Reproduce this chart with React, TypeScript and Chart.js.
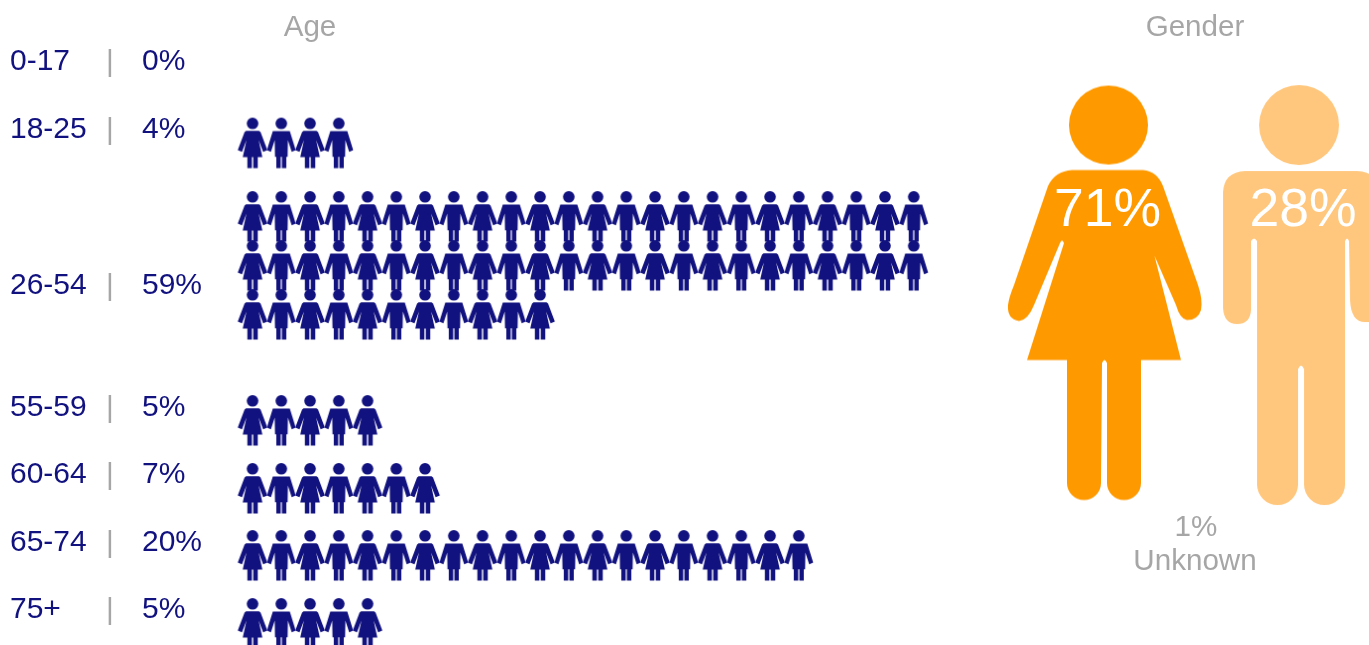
import React, { useEffect, useRef } from "react";
import { Chart, registerables } from "chart.js";

Chart.register(...registerables);

const ageGroups = ["0-17", "18-25", "26-54", "55-59", "60-64", "65-74", "75+"];
const agePercent = [0, 4, 59, 5, 7, 20, 5];
const ageIconSlot = [0, 1, 2.086, 5.104, 6.109, 7.101, 8.107];
const ageLabelSlot = [-0.207, 0.799, 3.107, 4.912, 5.903, 6.909, 7.9];
const iconsPerLine = 24;
const lineStep = 0.725;

const genderLabels = ["71%", "28%"];
const genderColumn = [29.652, 36.47];
const genderSlot = [3.203, 3.24];
const genderLabelColumn = [29.74, 36.54];
const genderLabelSlot = [1.995, 1.995];

const NAVY = "#11117f";
const GRAY = "#a6a6a6";
const ORANGE = "#ff9900";
const LIGHT = "#ffc77d";
const FONT = '"Liberation Sans", Arial, sans-serif';

function makeCanvas(w: number, h: number, draw: (c: CanvasRenderingContext2D) => void) {
  const cv = document.createElement("canvas");
  cv.width = w;
  cv.height = h;
  const c = cv.getContext("2d")!;
  draw(c);
  return cv;
}

function poly(c: CanvasRenderingContext2D, pts: number[][]) {
  c.beginPath();
  pts.forEach((p, i) => (i ? c.lineTo(p[0], p[1]) : c.moveTo(p[0], p[1])));
  c.closePath();
  c.fill();
}

const smallFemale = () =>
  makeCanvas(32, 54, (c) => {
    c.translate(16, 27);
    c.fillStyle = NAVY;
    c.beginPath();
    c.arc(0, -20.2, 5.8, 0, Math.PI * 2);
    c.fill();
    poly(c, [[-6.5, -12.8], [6.5, -12.8], [8, -11.5], [14.8, 6.5], [10.6, 8.2], [6.1, -3.5], [9.8, 13.6], [-9.8, 13.6], [-6.1, -3.5], [-10.6, 8.2], [-14.8, 6.5], [-8, -11.5]]);
    c.fillRect(-5.2, 13, 4.5, 11.5);
    c.fillRect(0.7, 13, 4.5, 11.5);
  });

const smallMale = () =>
  makeCanvas(32, 54, (c) => {
    c.translate(16, 27);
    c.fillStyle = NAVY;
    c.beginPath();
    c.arc(0, -20.2, 5.8, 0, Math.PI * 2);
    c.fill();
    poly(c, [[-8.5, -12.5], [8.5, -12.5], [14.4, 6.5], [10.4, 8.2], [6.6, -3.5], [6.3, 13.2], [-6.3, 13.2], [-6.6, -3.5], [-10.4, 8.2], [-14.4, 6.5]]);
    c.fillRect(-5, 12.5, 4.4, 12);
    c.fillRect(0.6, 12.5, 4.4, 12);
  });

const bigFemale = () =>
  makeCanvas(210, 430, (c) => {
    c.translate(105 - 1105, 215 - 292.5);
    c.fillStyle = ORANGE;
    c.beginPath();
    c.arc(1108.5, 125, 39.5, 0, Math.PI * 2);
    c.fill();
    c.beginPath();
    c.moveTo(1072, 170);
    c.lineTo(1143, 170);
    c.quadraticCurveTo(1157, 171, 1163, 186);
    c.lineTo(1198, 285);
    c.quadraticCurveTo(1203, 300, 1201, 310);
    c.quadraticCurveTo(1198, 320, 1187, 320);
    c.quadraticCurveTo(1180, 319, 1176, 305);
    c.lineTo(1148.5, 242);
    c.quadraticCurveTo(1150, 238, 1151, 242);
    c.lineTo(1181, 360);
    c.lineTo(1141, 360);
    c.lineTo(1141, 483);
    c.arc(1124, 483, 17, 0, Math.PI);
    c.lineTo(1107, 363);
    c.quadraticCurveTo(1104.5, 357, 1102, 363);
    c.lineTo(1101, 483);
    c.arc(1084, 483, 17, 0, Math.PI);
    c.lineTo(1067, 360);
    c.lineTo(1027, 360);
    c.lineTo(1064, 243);
    c.quadraticCurveTo(1062, 238, 1060, 243);
    c.lineTo(1034, 305);
    c.quadraticCurveTo(1028, 320, 1019, 321);
    c.quadraticCurveTo(1007, 319, 1008, 305);
    c.quadraticCurveTo(1009, 297, 1014, 285);
    c.lineTo(1048, 186);
    c.quadraticCurveTo(1055, 171, 1072, 170);
    c.closePath();
    c.fill();
  });

const bigMale = () =>
  makeCanvas(180, 440, (c) => {
    c.translate(90 - 1301, 220 - 295);
    c.fillStyle = LIGHT;
    c.beginPath();
    c.arc(1299, 125, 40, 0, Math.PI * 2);
    c.fill();
    c.beginPath();
    c.moveTo(1245, 171);
    c.lineTo(1357, 171);
    c.quadraticCurveTo(1379, 172, 1379, 192);
    c.lineTo(1379, 322);
    c.lineTo(1365, 322);
    c.quadraticCurveTo(1351, 322, 1350, 300);
    c.lineTo(1349, 241);
    c.quadraticCurveTo(1347, 236, 1345, 241);
    c.lineTo(1345, 483);
    c.arc(1324.5, 484.5, 20.5, 0, Math.PI);
    c.lineTo(1304, 369);
    c.quadraticCurveTo(1301, 362, 1298, 369);
    c.lineTo(1298, 484.5);
    c.arc(1277.5, 484.5, 20.5, 0, Math.PI);
    c.lineTo(1257, 241);
    c.quadraticCurveTo(1254, 236, 1251, 241);
    c.lineTo(1251, 310);
    c.quadraticCurveTo(1250, 324, 1237, 324);
    c.quadraticCurveTo(1224, 324, 1223, 308);
    c.lineTo(1223, 192);
    c.quadraticCurveTo(1224, 172, 1245, 171);
    c.closePath();
    c.fill();
  });

export default function App() {
  const ref = useRef<HTMLCanvasElement>(null);

  useEffect(() => {
    const female = smallFemale();
    const male = smallMale();
    const gF = bigFemale();
    const gM = bigMale();

    const agePoints: { x: number; y: number }[] = [];
    ageGroups.forEach((_, g) => {
      for (let i = 0; i < agePercent[g]; i++) {
        const col = i % iconsPerLine;
        const line = Math.floor(i / iconsPerLine);
        agePoints.push({ x: col, y: ageIconSlot[g] + line * lineStep });
      }
    });
    const genderPoints = genderColumn.map((x, i) => ({ x, y: genderSlot[i] }));

    const textPlugin = {
      id: "texts",
      afterDatasetsDraw(chart: any) {
        const c: CanvasRenderingContext2D = chart.ctx;
        const xs = chart.scales.x;
        const ys = chart.scales.y;
        c.save();
        c.textBaseline = "middle";
        c.font = `30px ${FONT}`;
        ageGroups.forEach((g, i) => {
          const y = ys.getPixelForValue(ageLabelSlot[i]);
          c.fillStyle = NAVY;
          c.textAlign = "left";
          c.fillText(g, 10, y);
          c.fillText(`${agePercent[i]}%`, 142, y);
          c.fillStyle = GRAY;
          c.textAlign = "center";
          c.fillText("|", 110, y + 1);
        });
        c.font = `29.6px ${FONT}`;
        c.fillStyle = GRAY;
        c.textAlign = "center";
        c.fillText("Age", 310, 28);
        c.fillText("Gender", 1195, 28);
        c.fillText("1%", 1196, 528);
        c.fillText("Unknown", 1195, 562);
        c.fillStyle = "#ffffff";
        c.font = `53.5px ${FONT}`;
        genderLabels.forEach((t, i) => {
          c.fillText(t, xs.getPixelForValue(genderLabelColumn[i]), ys.getPixelForValue(genderLabelSlot[i]));
        });
        c.restore();
      },
    };

    const chart = new Chart(ref.current!, {
      type: "scatter",
      data: {
        datasets: [
          {
            label: "Age",
            data: agePoints,
            pointRadius: 14,
            pointHoverRadius: 14,
            pointStyle: (ctx: any) => (ctx.raw && ctx.raw.x % 2 === 0 ? female : male),
            clip: false,
          },
          {
            label: "Gender",
            data: genderPoints,
            pointRadius: 14,
            pointHoverRadius: 14,
            pointStyle: (ctx: any) => (ctx.dataIndex === 0 ? gF : gM),
            clip: false,
          },
        ],
      },
      options: {
        responsive: false,
        animation: false,
        layout: { padding: 0, autoPadding: false },
        events: [],
        plugins: { legend: { display: false }, tooltip: { enabled: false }, title: { display: false } },
        scales: {
          x: { type: "linear", display: false, bounds: "data", min: -8.783, max: 38.835 },
          y: { type: "linear", display: false, bounds: "data", reverse: true, min: -1.124, max: 8.417 },
        },
      },
      plugins: [textPlugin],
    } as any);
    return () => chart.destroy();
  }, []);

  return (
    <div style={{ position: "absolute", left: 0, top: 0, width: 1369, height: 645, overflow: "hidden", background: "#fff" }}>
      <canvas ref={ref} width={1369} height={645} style={{ display: "block" }} />
    </div>
  );
}
